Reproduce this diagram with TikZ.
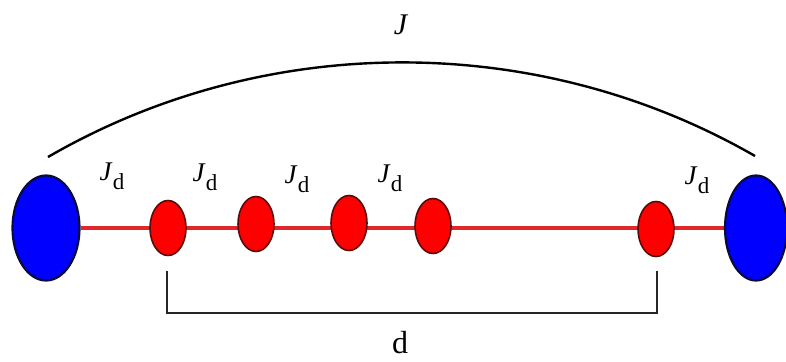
\documentclass[tikz,border=0pt]{standalone}
\usepackage{fontspec}
\setmainfont{Liberation Serif}
\usetikzlibrary{shapes.geometric,backgrounds}
\definecolor{spinblue}{RGB}{0,0,255}
\definecolor{bathedge}{RGB}{10,10,60}
\definecolor{spinred}{RGB}{255,0,0}
\definecolor{dotedge}{RGB}{90,10,10}
\definecolor{chainred}{RGB}{225,40,40}
\newcommand{\couplingJd}{\textit{J}\raisebox{-0.35em}{\fontsize{23}{24}\selectfont d}}

\begin{document}
\begin{tikzpicture}[x=1pt,y=-1pt,
  bath/.style={ellipse, draw=bathedge, fill=spinblue, line width=2.2pt, inner sep=0pt, minimum width=67pt, minimum height=105pt},
  dot/.style={ellipse, draw=dotedge, fill=spinred, line width=1.6pt, inner sep=0pt, minimum width=36pt, minimum height=55pt},
  chain/.style={draw=chainred, line width=3.6pt},
  bracket/.style={draw=black!85, line width=1.8pt},
  lbl/.style={anchor=base, inner sep=0pt, font=\fontsize{27}{30}\selectfont}]
\useasboundingbox (0,0) rectangle (786,361);
% spins
\node[bath] (L) at (46,228) {};
\node[dot] (s1) at (168,228) {};
\node[dot] (s2) at (256,224) {};
\node[dot] (s3) at (349,223) {};
\node[dot] (s4) at (433,226) {};
\node[dot] (s5) at (656,229) {};
\node[bath, minimum width=62pt] (R) at (756,228) {};
\begin{scope}[on background layer]
\draw[chain] (L) -- (R);
\end{scope}
% long-range coupling
\coordinate (arcL) at (48,157);
\coordinate (arcR) at (755,156);
\draw[line width=2.4pt] (arcL) to[bend left=30, looseness=0.91] (arcR);
\node[lbl, font=\fontsize{30}{32}\selectfont] (Jall) at (401,35) {\textit{J}};
% nearest-neighbour couplings
\node[lbl] (j1) at (112,180) {\couplingJd};
\node[lbl] (j2) at (205,181) {\couplingJd};
\node[lbl] (j3) at (297,183) {\couplingJd};
\node[lbl] (j4) at (390,182) {\couplingJd};
\node[lbl] (j5) at (697,184) {\couplingJd};
% distance
\coordinate (brkL) at (167,313);
\coordinate (brkR) at (657,313);
\draw[bracket] (brkL |- 0,271) -- (brkL) -- (brkR) -- (brkR |- 0,271);
\node[lbl, font=\fontsize{32}{34}\selectfont] (dist) at (400,353) {d};
\end{tikzpicture}
\end{document}
